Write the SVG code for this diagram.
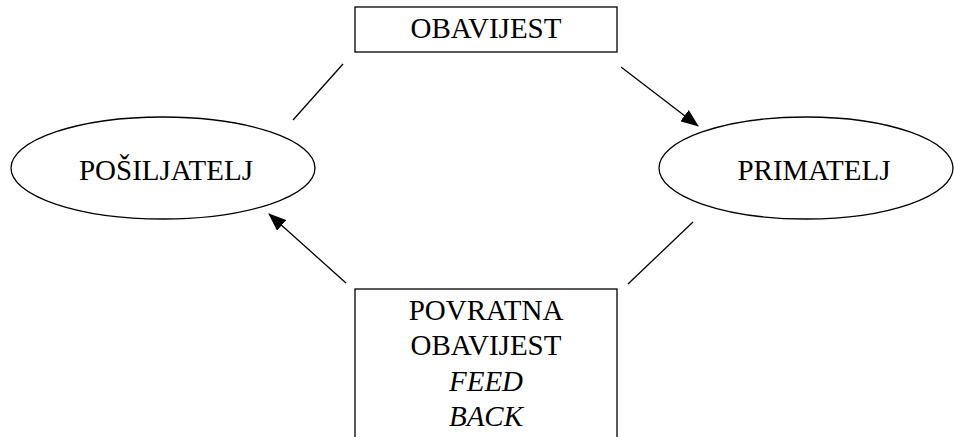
<svg xmlns="http://www.w3.org/2000/svg" width="954" height="437" viewBox="0 0 954 437">
<style>
.shape{fill:#fff;stroke:#000;stroke-width:1.3}
.t{font-family:"Liberation Serif","Times New Roman",serif;font-size:29px;fill:#000;text-anchor:middle}
.i{font-style:italic}
.c{stroke:#000;stroke-width:1.3;fill:none}
</style>
<defs>
<marker id="ah" markerWidth="18" markerHeight="14" refX="17" refY="7" orient="auto" markerUnits="userSpaceOnUse">
<path d="M0,0 L18,7 L0,14 Z" fill="#000"/>
</marker>
</defs>
<rect width="954" height="437" fill="#fff"/>
<g id="connectors">
<line class="c" x1="343" y1="64" x2="293" y2="120"/>
<line class="c" x1="621" y1="67" x2="698" y2="126" marker-end="url(#ah)"/>
<line class="c" x1="346" y1="283" x2="269" y2="214" marker-end="url(#ah)"/>
<line class="c" x1="693" y1="222" x2="628" y2="284"/>
</g>
<g id="obavijest">
<rect class="shape" x="355" y="7" width="262" height="45"/>
<text class="t" x="486" y="38">OBAVIJEST</text>
</g>
<g id="posiljatelj">
<ellipse class="shape" cx="163" cy="168" rx="152" ry="51"/>
<text class="t" x="166" y="180">POŠILJATELJ</text>
</g>
<g id="primatelj">
<ellipse class="shape" cx="806" cy="168" rx="147" ry="51"/>
<text class="t" x="814" y="180">PRIMATELJ</text>
</g>
<g id="povratna">
<rect class="shape" x="355" y="289" width="262" height="160"/>
<text class="t" x="486" y="320">POVRATNA</text>
<text class="t" x="486" y="355">OBAVIJEST</text>
<text class="t i" x="486" y="391">FEED</text>
<text class="t i" x="486" y="426">BACK</text>
</g>
</svg>
